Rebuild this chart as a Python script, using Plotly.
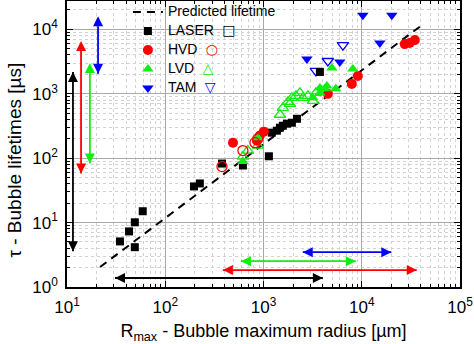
import numpy as np
import plotly.graph_objects as go

# ---------------- data ----------------
# LASER (filled squares)
laser_R = [34.6, 49, 42.8, 49, 59, 196, 225, 378, 617, 1135,
           1216, 1368, 1469, 1575, 1730, 1945, 2190, 3750]
laser_tau = [5.1, 4.15, 7.3, 10.1, 15, 36.4, 40.5, 82.5, 77, 107,
             249, 267, 297, 319, 343, 355, 409, 2180]

# HVD filled / hollow circles
hvd_R = [489, 857, 918, 1010, 4520, 7920, 9120, 27400, 30800, 34700]
hvd_tau = [174, 187, 224, 258, 996, 1422, 1890, 5900, 6120, 6810]
hvd_open_R = [378, 617, 818, 877]
hvd_open_tau = [74, 131, 174, 201]

# LVD filled / hollow triangles
lvd_R = [617, 877, 3750, 4415, 3185, 3750, 4220, 5440, 4960, 8110]
lvd_tau = [89, 208, 1233, 1325, 864, 1032, 1191, 1191, 2512, 2427]
lvd_open_R = [1469, 1575, 1770, 1945, 2140, 2345, 2515, 2830, 3185, 3415,
              1857, 617, 692, 877]
lvd_open_tau = [472, 605, 750, 864, 929, 1032, 864, 929, 777, 1032,
                698, 106, 131, 157]

# TAM filled / hollow down-triangles
tam_R = [2765, 5980, 10260, 20230, 15280]
tam_tau = [3460, 3110, 16570, 16570, 6120]
tam_open_R = [6430, 4520, 3415]
tam_open_tau = [5700, 3225, 2260]

# predicted lifetime line (end points)
pred_R = [21.7, 40800]
pred_tau = [2.04, 11600]

# ranges covered by each technique (arrows)
methods = ["LASER", "HVD", "LVD", "TAM"]
tau_lo = [3.6, 58, 83, 2040]
tau_hi = [2180, 6570, 3000, 16000]
R_lo = [30.8, 386, 589, 2510]
R_hi = [4020, 36300, 8700, 20000]

# ---------------- styling ----------------
colors = {"LASER": "#000000", "HVD": "#ff0000", "LVD": "#11ee11", "TAM": "#0000ff"}
arrow_x_pos = [11.5, 13.9, 17.1, 20.7]     # where the vertical arrows sit
arrow_y_pos = [1.38, 1.83, 2.52, 3.47]     # where the horizontal arrows sit

fig = go.Figure()

# arrows (drawn first, beneath data)
for i, m in enumerate(methods):
    c = colors[m]
    fig.add_trace(go.Scatter(
        x=[arrow_x_pos[i], arrow_x_pos[i]], y=[tau_lo[i], tau_hi[i]],
        mode="lines+markers", line=dict(color=c, width=1.8),
        marker=dict(symbol=["arrow-down", "arrow-up"], size=10, color=c,
                    line=dict(width=0)),
        showlegend=False, hoverinfo="skip"))
    fig.add_trace(go.Scatter(
        x=[R_lo[i], R_hi[i]], y=[arrow_y_pos[i], arrow_y_pos[i]],
        mode="lines+markers", line=dict(color=c, width=1.8),
        marker=dict(symbol=["arrow-left", "arrow-right"], size=10, color=c,
                    line=dict(width=0)),
        showlegend=False, hoverinfo="skip"))

TXT = "<span style='font-size:14px'>{}</span>"


def lab(name, glyph, c):
    return (TXT.format(name) + "\u00a0\u00a0\u00a0"
            + f"<span style='color:{c};font-size:14px;font-family:DejaVu Sans'>{glyph}</span>")


# predicted lifetime
fig.add_trace(go.Scatter(x=pred_R, y=pred_tau, mode="lines",
                         line=dict(color="black", width=2, dash="8px,6px"),
                         name=TXT.format("Predicted lifetime")))

# hollow series (no legend)
fig.add_trace(go.Scatter(x=lvd_open_R, y=lvd_open_tau, mode="markers",
                         marker=dict(symbol="triangle-up-open", size=10,
                                     color=colors["LVD"], line=dict(width=1.3)),
                         showlegend=False))
fig.add_trace(go.Scatter(x=tam_open_R, y=tam_open_tau, mode="markers",
                         marker=dict(symbol="triangle-down-open", size=10,
                                     color=colors["TAM"], line=dict(width=1.3)),
                         showlegend=False))

# filled series
fig.add_trace(go.Scatter(x=laser_R, y=laser_tau, mode="markers",
                         marker=dict(symbol="square", size=8, color=colors["LASER"]),
                         name=lab("LASER", "\u25a1", colors["LASER"])))
fig.add_trace(go.Scatter(x=hvd_R, y=hvd_tau, mode="markers",
                         marker=dict(symbol="circle", size=10, color=colors["HVD"]),
                         name=lab("HVD", "\u25cb", colors["HVD"])))
fig.add_trace(go.Scatter(x=lvd_R, y=lvd_tau, mode="markers",
                         marker=dict(symbol="triangle-up", size=10, color=colors["LVD"]),
                         name=lab("LVD", "\u25b3", colors["LVD"])))
fig.add_trace(go.Scatter(x=tam_R, y=tam_tau, mode="markers",
                         marker=dict(symbol="triangle-down", size=10, color=colors["TAM"]),
                         name=lab("TAM", "\u25bd", colors["TAM"])))
fig.add_trace(go.Scatter(x=hvd_open_R, y=hvd_open_tau, mode="markers",
                         marker=dict(symbol="circle-open", size=10,
                                     color=colors["HVD"], line=dict(width=1.3)),
                         showlegend=False))

x_major = [10 ** k for k in range(1, 6)]
y_major = [10 ** k for k in range(0, 5)]
x_minor = [d * 10 ** k for k in range(1, 5) for d in range(2, 10)]
y_minor = [d * 10 ** k for k in range(0, 5) for d in range(2, 10)]

common = dict(type="log", showline=True, linecolor="black", linewidth=1.5,
              mirror="allticks", ticks="inside", ticklen=6, tickwidth=1.2,
              tickcolor="black", showgrid=True, gridcolor="#a9a9a9",
              gridwidth=1, zeroline=False, tickfont=dict(size=17),
              ticklabelstandoff=4)

fig.update_xaxes(
    **common, range=[1, 5], tickvals=x_major,
    ticktext=[f"10<sup>{k}</sup>" for k in range(1, 6)],
    minor=dict(tickvals=x_minor, ticks="inside", ticklen=3, tickcolor="black",
               showgrid=True, gridcolor="#d2d2d2", griddash="dot", gridwidth=1),
    title=dict(text="R<sub>max</sub> - Bubble maximum radius [µm]",
               font=dict(size=18), standoff=15))
fig.update_yaxes(
    **common, range=[0, 4.44], tickvals=y_major,
    ticktext=[f"10<sup>{k}</sup>" for k in range(0, 5)],
    minor=dict(tickvals=y_minor, ticks="inside", ticklen=3, tickcolor="black",
               showgrid=True, gridcolor="#d2d2d2", griddash="dot", gridwidth=1))

fig.add_annotation(text="τ - Bubble lifetimes [µs]", textangle=-90,
                   xref="paper", yref="paper", x=-0.136, y=0.444,
                   xanchor="center", yanchor="middle", showarrow=False,
                   font=dict(size=19))

fig.update_layout(
    width=474, height=344,
    margin=dict(l=67, r=14, t=1, b=57, autoexpand=False),
    paper_bgcolor="white", plot_bgcolor="white",
    font=dict(family="Liberation Sans, Arial, DejaVu Sans", color="black"),
    legend=dict(x=0.155, y=1.012, xanchor="left", yanchor="top",
                bgcolor="rgba(0,0,0,0)", font=dict(size=10),
                tracegroupgap=0, itemwidth=30),
)

fig.write_html("out.html")
